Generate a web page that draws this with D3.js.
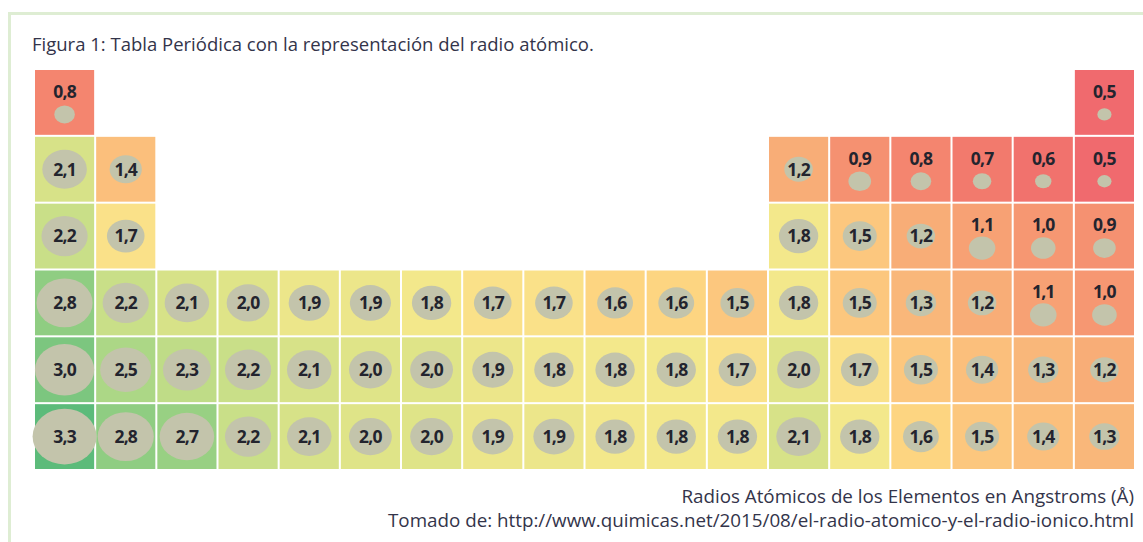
<!DOCTYPE html>
<html lang="es">
<head>
<meta charset="UTF-8">
<title>Tabla Periódica - radio atómico</title>
<script src="https://cdn.jsdelivr.net/npm/d3@7"></script>
<style>
    body{ margin:0; background:#fff; }
    svg{ display:block; font-family:"Open Sans", sans-serif; }
    .title{ font-size:18.5px; fill:#33344a; }
    .note{ font-size:18.8px; fill:#33344a; text-anchor:end; }
    .val{ font-size:17.5px; font-weight:700; fill:#23242e; text-anchor:middle; letter-spacing:-0.8px; }
</style>
</head>
<body>
<div id="root"></div>
<script>
    // grupos (columnas) y periodos (filas)
    const groups = d3.range(1, 19)
    const periods = [1, 2, 3, 4, 5, 6]

    // radio atómico en Å, null = sin elemento en esa casilla
    const period1 = [0.8, null, null, null, null, null, null, null, null, null, null, null, null, null, null, null, null, 0.5]
    const period2 = [2.1, 1.4, null, null, null, null, null, null, null, null, null, null, 1.2, 0.9, 0.8, 0.7, 0.6, 0.5]
    const period3 = [2.2, 1.7, null, null, null, null, null, null, null, null, null, null, 1.8, 1.5, 1.2, 1.1, 1.0, 0.9]
    const period4 = [2.8, 2.2, 2.1, 2.0, 1.9, 1.9, 1.8, 1.7, 1.7, 1.6, 1.6, 1.5, 1.8, 1.5, 1.3, 1.2, 1.1, 1.0]
    const period5 = [3.0, 2.5, 2.3, 2.2, 2.1, 2.0, 2.0, 1.9, 1.8, 1.8, 1.8, 1.7, 2.0, 1.7, 1.5, 1.4, 1.3, 1.2]
    const period6 = [3.3, 2.8, 2.7, 2.2, 2.1, 2.0, 2.0, 1.9, 1.9, 1.8, 1.8, 1.8, 2.1, 1.8, 1.6, 1.5, 1.4, 1.3]

    const titleText = "Figura 1: Tabla Periódica con la representación del radio atómico."
    const noteLines = [
        "Radios Atómicos de los Elementos en Angstroms (Å)",
        "Tomado de: http://www.quimicas.net/2015/08/el-radio-atomico-y-el-radio-ionico.html"
    ]

    const rows = [period1, period2, period3, period4, period5, period6]
    let cells = []
    rows.forEach((row, i) => {
        row.forEach((v, j) => {
            if (v != null) cells.push({ period: periods[i], group: groups[j], value: v })
        })
    })

    let width = 1143, height = 542

    let svg = d3.select("#root").append("svg").attr("width", width).attr("height", height)

    let x = d3.scaleBand().domain(groups).range([35, 1134]).paddingInner(0.033)
    let y = d3.scaleBand().domain(periods).range([70, 469]).paddingInner(0.03)

    let color = d3.scaleLinear()
        .domain([0.5, 0.6, 0.7, 0.8, 0.9, 1.0, 1.1, 1.2, 1.3, 1.4, 1.5, 1.6, 1.7, 1.8, 1.9, 2.0, 2.1, 2.2, 2.3, 2.5, 2.7, 2.8, 3.0, 3.3])
        .range(["#f06a6e", "#f1726d", "#f27a6d", "#f4856f", "#f59171", "#f69772", "#f7a174", "#f8ad77", "#f9b77a",
                "#fbbf7c", "#fcc77e", "#fdd581", "#fae189", "#f3e88b", "#ece68a", "#dfe488", "#d7e288", "#c9df88",
                "#bfdc87", "#acd786", "#98d083", "#8fcd82", "#7cc67f", "#5cbb7a"])
        .clamp(true)

    let rx = d3.scalePow().exponent(0.8).domain([0, 3.3]).range([0, 32])

    let fmt = d3.formatLocale({ decimal: ",", thousands: ".", grouping: [3], currency: ["", ""] }).format(".1f")

    function renderFrame(){
        svg.append("line").attr("x1", 8).attr("x2", width).attr("y1", 13.5).attr("y2", 13.5)
            .attr("stroke", "#deedd3").attr("stroke-width", 3)
        svg.append("line").attr("x1", 9.5).attr("x2", 9.5).attr("y1", 12).attr("y2", height)
            .attr("stroke", "#deedd3").attr("stroke-width", 3)
    }

    function renderTitle(){
        svg.append("text").attr("class", "title").attr("x", 32).attr("y", 51).text(titleText)
        svg.selectAll("text.note").data(noteLines).enter().append("text")
            .attr("class", "note")
            .attr("x", 1134)
            .attr("y", (d, i) => 503 + i * 24)
            .text(d => d)
    }

    function renderCells(){
        let g = svg.selectAll("g.cell").data(cells).enter().append("g")
            .attr("class", "cell")
            .attr("transform", d => "translate(" + x(d.group) + "," + y(d.period) + ")")

        g.append("rect")
            .attr("width", x.bandwidth())
            .attr("height", y.bandwidth())
            .attr("fill", d => color(d.value))

        let cx = x.bandwidth() / 2, cy = y.bandwidth() / 2

        // valores pequeños: número arriba y círculo abajo
        g.append("ellipse")
            .attr("cx", cx)
            .attr("cy", d => d.value <= 1.1 ? cy + 12 : cy)
            .attr("rx", d => rx(d.value))
            .attr("ry", d => rx(d.value) * 0.87)
            .attr("fill", "#c3c4ab")

        g.append("text")
            .attr("class", "val")
            .attr("x", cx)
            .attr("y", d => d.value <= 1.1 ? cy - 11 : cy)
            .attr("dy", "0.36em")
            .text(d => fmt(d.value))
    }

    renderFrame()
    renderTitle()
    renderCells()
    // la elipse de 3,3 se sale de su casilla: subirla encima de la vecina
    svg.selectAll("g.cell").filter(d => d.value >= 3.3).raise()
    svg.selectAll("g.cell").each(function(d){
        d3.select(this).select("text").raise()
    })
</script>
</body>
</html>
